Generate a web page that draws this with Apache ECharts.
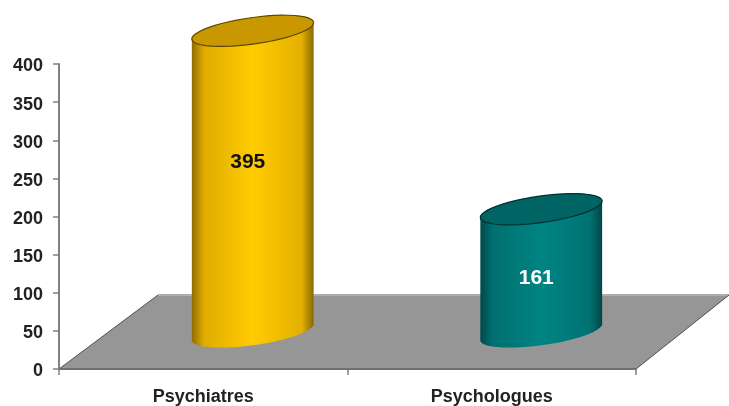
<!DOCTYPE html>
<html>
<head>
<meta charset="utf-8">
<style>html,body{margin:0;padding:0;background:#fff}#c{width:729px;height:406px;filter:blur(0.45px)}</style>
<script src="https://cdn.jsdelivr.net/npm/echarts@6/dist/echarts.min.js"></script>
</head>
<body>
<div id="c"></div>
<script>
var categories = ['Psychiatres', 'Psychologues'];
var values = [395, 161];
var valueTicks = { min: 0, max: 400, interval: 50 };
var bodyStops = [
  ['#8f6e00', '#e0ac00', '#ffcc00', '#e4b000', '#8a6a00'],
  ['#004a4a', '#006f6f', '#008484', '#007272', '#004444']
];
var capFill = ['#c99700', '#006464'];
var capLine = ['#5c4800', '#003030'];
var labelFill = ['#111111', '#ffffff'];
var labelRise = [0.565, 0.44];

var DEPTH_X = 99, DEPTH_Y = 74;
var RX = 61.5, RY = 13.2, TILT = -8 * Math.PI / 180;

function ellipsePt(cx, cy, t) {
  var ex = RX * Math.cos(t), ey = RY * Math.sin(t);
  return [cx + ex * Math.cos(TILT) - ey * Math.sin(TILT),
          cy + ex * Math.sin(TILT) + ey * Math.cos(TILT)];
}
function arc(cx, cy, from, to) {
  var pts = [];
  for (var i = 0; i <= 48; i++) pts.push(ellipsePt(cx, cy, from + (to - from) * i / 48));
  return pts;
}

function renderFloor(params, api) {
  var g = params.coordSys;
  var bottom = g.y + g.height;
  var a = [g.x, bottom], b = [g.x + DEPTH_X, bottom - DEPTH_Y];
  var c = [g.x + g.width + 93, bottom - DEPTH_Y], d = [g.x + g.width, bottom];
  return {
    type: 'group',
    children: [
      { type: 'polygon', shape: { points: [a, b, c, d] }, style: { fill: '#969696' } },
      { type: 'polyline', shape: { points: [b, c] }, style: { stroke: '#aeaeae', lineWidth: 2, fill: null } },
      { type: 'polyline', shape: { points: [a, b] }, style: { stroke: '#4f4f4f', lineWidth: 1, fill: null } },
      { type: 'polyline', shape: { points: [d, c] }, style: { stroke: '#4f4f4f', lineWidth: 1, fill: null } },
      { type: 'polyline', shape: { points: [a, d] }, style: { stroke: '#707070', lineWidth: 2, fill: null } }
    ]
  };
}

function renderCylinder(params, api) {
  var i = params.dataIndex;
  var top = api.coord([api.value(0), api.value(1)]);
  var base = api.coord([api.value(0), 0]);
  var bandW = api.size([1, 0])[0];
  var dx = bandW * 0.1715;
  var cx = base[0] + dx, by = base[1] - 37, ty = top[1] - 37;
  var body = arc(cx, ty, Math.PI, 2 * Math.PI).concat(arc(cx, by, 0, Math.PI));
  var cap = arc(cx, ty, 0, 2 * Math.PI);
  var s = bodyStops[i];
  return {
    type: 'group',
    children: [
      {
        type: 'polygon', shape: { points: body },
        style: {
          fill: { type: 'linear', x: 0, y: 0, x2: 1, y2: 0, colorStops: [
            { offset: 0, color: s[0] }, { offset: 0.1, color: s[1] }, { offset: 0.5, color: s[2] },
            { offset: 0.9, color: s[3] }, { offset: 1, color: s[4] }
          ] }
        }
      },
      { type: 'polygon', shape: { points: cap }, style: { fill: capFill[i], stroke: capLine[i], lineWidth: 1.2 } },
      {
        type: 'text',
        style: {
          text: String(api.value(1)),
          x: cx - 5, y: by - (by - ty) * labelRise[i],
          fill: labelFill[i],
          font: 'bold 21px "Liberation Sans", Arial, sans-serif',
          align: 'center', verticalAlign: 'middle'
        }
      }
    ]
  };
}

var chart = echarts.init(document.getElementById('c'), null, { renderer: 'canvas' });
chart.setOption({
  animation: false,
  backgroundColor: '#ffffff',
  grid: { left: 59, right: 93, top: 64, bottom: 36, containLabel: false },
  xAxis: {
    type: 'category',
    data: categories,
    axisLine: { lineStyle: { color: '#808080', width: 2 } },
    axisTick: { show: true, length: 6, lineStyle: { color: '#808080', width: 1.5 } },
    axisLabel: { margin: 19, color: '#222222', fontFamily: '"Liberation Sans", Arial, sans-serif', fontWeight: 'bold', fontSize: 18 }
  },
  yAxis: {
    type: 'value',
    min: valueTicks.min, max: valueTicks.max, interval: valueTicks.interval,
    splitLine: { show: false },
    axisLine: { show: true, lineStyle: { color: '#808080', width: 2 } },
    axisTick: { show: true, length: 6, lineStyle: { color: '#808080', width: 1.5 } },
    axisLabel: { margin: 16, verticalAlign: 'top', lineHeight: 5, color: '#222222', fontFamily: '"Liberation Sans", Arial, sans-serif', fontWeight: 'bold', fontSize: 18 }
  },
  series: [
    { type: 'custom', z: 1, silent: true, clip: false, renderItem: renderFloor, data: [[0, 0]] },
    {
      type: 'custom', z: 3, clip: false, renderItem: renderCylinder,
      encode: { x: 0, y: 1 },
      data: values.map(function (v, i) { return [i, v]; })
    }
  ]
});
</script>
</body>
</html>
